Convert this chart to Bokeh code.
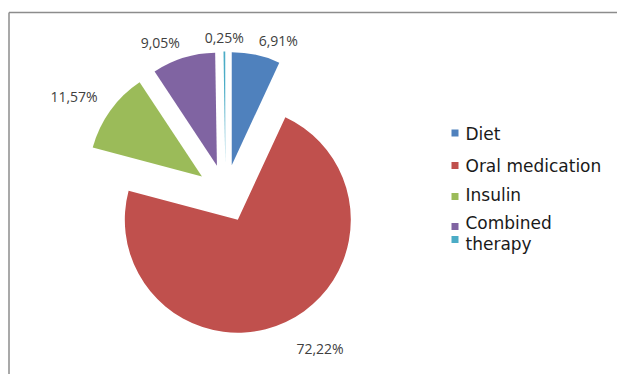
import math
from bokeh.plotting import figure
from bokeh.models import Range1d, ColumnDataSource
from bokeh.core.properties import value
from bokeh.embed import file_html
from bokeh.resources import INLINE

# ---- data ----
categories = ["Diet", "Oral medication", "Insulin", "Combined", "therapy"]
values = [6.91, 72.22, 11.57, 9.05, 0.25]
colors = ["#4F81BD", "#C0504D", "#9BBB59", "#8064A2", "#4BACC6"]

# ---- layout / style ----
W, H = 617, 374
CX, CY = 225, H - 193      # pie centre (data units == pixels)
R = 113                    # slice radius
EXPLODE = 29               # explode distance
label_pad = [10, 24, 15, 11, 9]   # label distance outside arc, per slice
legend_marker_x = 454.5
legend_text_x = 465
legend_marker_y = [H - y for y in [132.5, 165, 196, 226, 239]]
legend_text_y = [H - y for y in [133, 165, 194, 222.5, 243]]

total = sum(values)
starts, ends, xs, ys = [], [], [], []
lx, ly, labels = [], [], []
cum = 0.0
for v, pad in zip(values, label_pad):
    f0 = cum / total
    f1 = (cum + v) / total
    fm = (f0 + f1) / 2
    cum += v
    a0 = math.pi / 2 - f0 * 2 * math.pi
    a1 = math.pi / 2 - f1 * 2 * math.pi
    am = math.pi / 2 - fm * 2 * math.pi
    dx, dy = math.cos(am), math.sin(am)
    ax, ay = CX + EXPLODE * dx, CY + EXPLODE * dy
    starts.append(a0)
    ends.append(a1)
    xs.append(ax)
    ys.append(ay)
    txt = f"{v:.2f}".replace(".", ",") + "%"
    labels.append(txt)
    hw = len(txt) * 4.0
    hh = 5
    sx = 0 if abs(dx) < 0.1 else (1 if dx > 0 else -1)
    sy = 1 if dy > 0 else -1
    lx.append(ax + (R + pad) * dx + hw * sx)
    ly.append(ay + (R + pad) * dy + hh * sy)

src = ColumnDataSource(dict(x=xs, y=ys, start=starts, end=ends, color=colors))

p = figure(width=W, height=H, output_backend="svg", toolbar_location=None,
           x_range=Range1d(0, W), y_range=Range1d(0, H),
           min_border=0, outline_line_color=None,
           background_fill_color="white", border_fill_color="white")
p.axis.visible = False
p.grid.visible = False

# chart frame: only the left and top edges fall inside the window
p.segment(x0=[8.5, 8.5], y0=[H - 12, H - 12], x1=[8.5, W + 50], y1=[-50, H - 12],
          line_color="#8c8c8c", line_width=1.5)

p.wedge(x="x", y="y", radius=R, start_angle="start", end_angle="end",
        direction="clock", fill_color="color", line_color=None, source=src)

p.text(x=lx, y=ly, text=labels, text_font=value("Open Sans"),
       text_font_size="14px", text_color="#404040",
       text_align="center", text_baseline="middle")

# legend
p.scatter(x=[legend_marker_x] * len(categories), y=legend_marker_y,
          marker="square", size=7, fill_color=colors, line_color=None)
p.text(x=[legend_text_x] * len(categories), y=legend_text_y, text=categories,
       text_font=value("DejaVu Sans"), text_font_size="17px",
       text_color="#1a1a1a", text_align="left", text_baseline="middle")

open("out.html", "w").write(file_html(p, INLINE))
